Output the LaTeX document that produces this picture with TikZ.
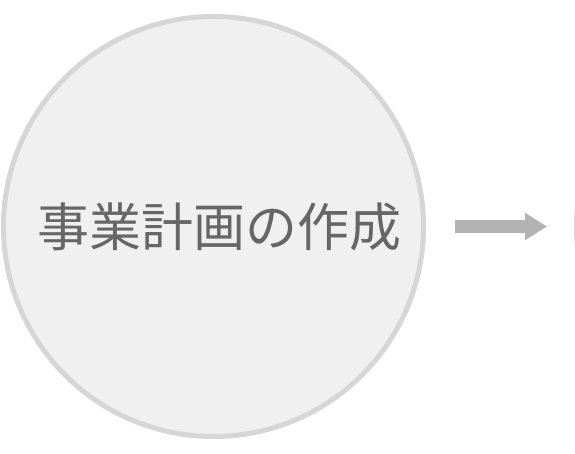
\documentclass[tikz,border=0pt]{standalone}
\usepackage{tikz}
\usepackage{xcolor}
\usepackage{fontspec}
\newfontfamily\jpfont{Noto Sans CJK JP}
\usetikzlibrary{positioning,arrows.meta}

\definecolor{stepfill}{HTML}{F0F0F0}
\definecolor{stepline}{HTML}{D6D6D6}
\definecolor{steptext}{HTML}{666666}
\definecolor{flowgray}{HTML}{B3B3B3}

\begin{document}
\begin{tikzpicture}[
				node distance=148pt,
				stepcircle/.style={circle, draw=stepline, fill=stepfill, line width=5pt, minimum size=420pt, inner sep=0pt},
				steplabel/.style={text=steptext, font=\jpfont\fontsize{52}{60}\selectfont, inner sep=0pt}
				]
				\useasboundingbox (0,0) rectangle (575pt,453pt);
				\node[stepcircle] (plan) at (213.5pt,226.5pt) {};
				\node[steplabel, xshift=5.5pt] (plantext) at (plan.center) {事業計画の作成};
				\node[stepcircle, right=of plan] (next) {};
				
				\draw[-{Triangle[length=22pt, width=26pt]}, line width=13pt, flowgray, shorten <=29pt, shorten >=27pt] (plan) -- (next);
			\end{tikzpicture}
\end{document}
